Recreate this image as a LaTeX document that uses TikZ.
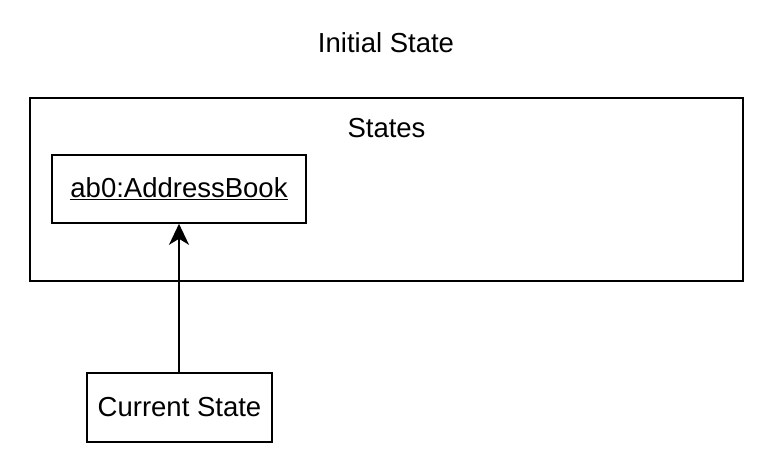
\documentclass[tikz,border=0pt]{standalone}
\usepackage{fontspec}
\setmainfont{Liberation Sans}
\usetikzlibrary{arrows.meta, positioning}
\tikzset{
		box/.style={draw, line width=1.6pt, inner sep=0pt, font=\fontsize{27.5}{32}\selectfont},
		label text/.style={inner sep=0pt, font=\fontsize{27.5}{32}\selectfont},
		pointer/.style={-{Stealth[length=21pt, width=20pt, inset=6pt]}, line width=1.6pt}
	}

\begin{document}
\begin{tikzpicture}[x=1pt, y=-1pt]
				\useasboundingbox (0,0) rectangle (776,464);
				\node[label text]                                        (title)  at (386,43)      {Initial State};
				\node[box, minimum width=713pt, minimum height=183pt]    (states) at (386.5,189.5) {};
				\node[label text]                                        (slabel) at (386.5,128)   {States};
				\node[box, minimum width=254pt, minimum height=68pt]     (ab0)    at (179,189)     {\underline{ab0:AddressBook}};
				\node[box, minimum width=185pt, minimum height=69pt]     (cur)    at (179.5,407.5) {Current State};
				\draw[pointer] (cur.north -| ab0.south) -- (ab0.south);
			\end{tikzpicture}
\end{document}
